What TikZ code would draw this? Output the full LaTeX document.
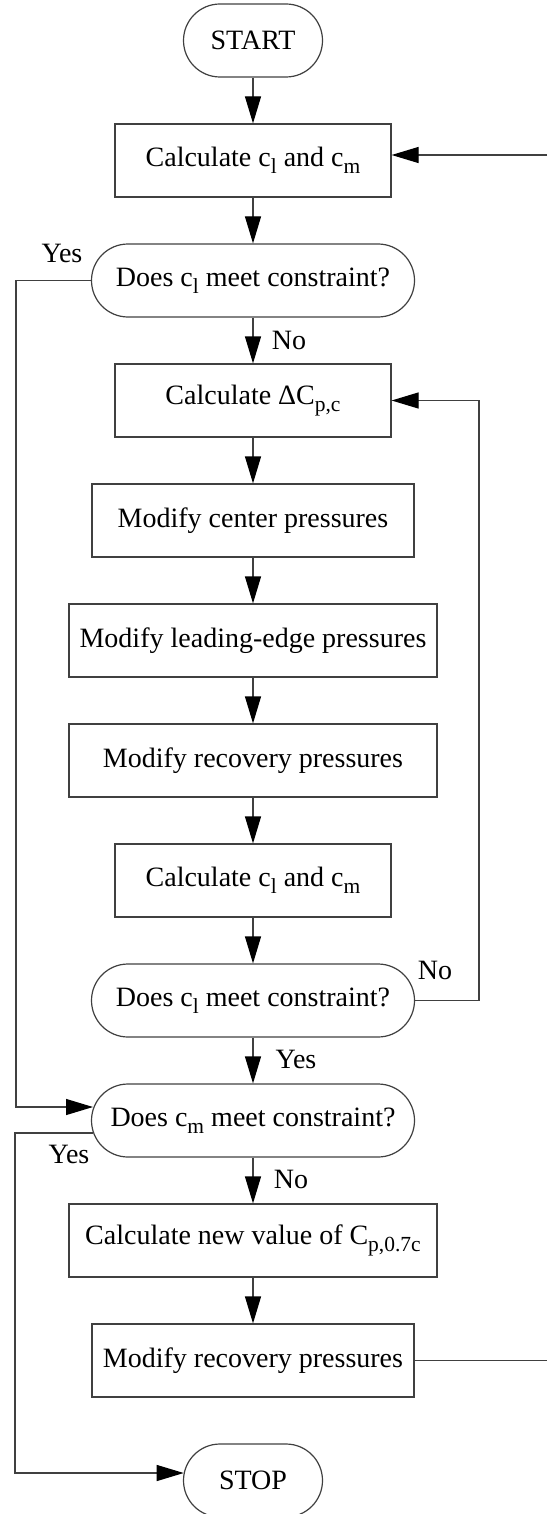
\documentclass[tikz,border=0pt]{standalone}
\usepackage{fontspec}
\setmainfont{Liberation Serif}
\usetikzlibrary{arrows.meta,calc}
\newcommand\sbs[1]{\raisebox{-7pt}{\fontsize{21.5}{21.5}\selectfont #1}}
\definecolor{linecol}{gray}{0.25}
\begin{document}
\begin{tikzpicture}[x=1pt,y=-1pt, font=\fontsize{28}{33}\selectfont,
  box/.style={draw=linecol, line width=1.2pt, minimum height=73pt, inner sep=0pt},
  term/.style={box, rounded corners=36.5pt},
  ln/.style={draw=linecol, line width=1.2pt},
  arr/.style={ln, -{Triangle[length=27pt,width=16pt,color=black]}},
  lbl/.style={inner sep=0pt}]
\useasboundingbox (0,0) rectangle (547,1514);
\node[term, minimum width=139pt] (start) at (253,40.5) {START};
\node[box, minimum width=276pt] (b1) at (253,160.5) {Calculate c\sbs{l} and c\sbs{m}};
\node[term, minimum width=323pt] (d1) at (253,280.5) {Does c\sbs{l} meet constraint?};
\node[box, minimum width=276pt] (b2) at (253,400.5) {Calculate ΔC\sbs{p,c}};
\node[box, minimum width=322pt] (b3) at (253,520.5) {Modify center pressures};
\node[box, minimum width=368pt] (b4) at (253,640.5) {Modify leading-edge pressures};
\node[box, minimum width=368pt] (b5) at (253,760.5) {Modify recovery pressures};
\node[box, minimum width=276pt] (b6) at (253,880.5) {Calculate c\sbs{l} and c\sbs{m}};
\node[term, minimum width=323pt] (d2) at (253,1000.5) {Does c\sbs{l} meet constraint?};
\node[term, minimum width=323pt] (d3) at (253,1120.5) {Does c\sbs{m} meet constraint?};
\node[box, minimum width=368pt] (b7) at (253,1240.5) {Calculate new value of C\sbs{p,0.7c}};
\node[box, minimum width=322pt] (b8) at (253,1360.5) {Modify recovery pressures};
\node[term, minimum width=139pt] (stop) at (253,1480.5) {STOP};

\draw[arr] (start) -- (b1);
\draw[arr] (b1) -- (d1);
\draw[arr] (d1) -- (b2);
\draw[arr] (b2) -- (b3);
\draw[arr] (b3) -- (b4);
\draw[arr] (b4) -- (b5);
\draw[arr] (b5) -- (b6);
\draw[arr] (b6) -- (d2);
\draw[arr] (d2) -- (d3);
\draw[arr] (d3) -- (b7);
\draw[arr] (b7) -- (b8);

\coordinate (rt) at (547,155);
\draw[arr] (rt) -- (rt -| b1.east);
\coordinate (rb) at (547,1360.5);
\draw[ln] (b8.east) -- (rb);

\coordinate (lx) at (479,0);
\draw[arr] (d2.east) -- (d2.east -| lx) -- (b2.east -| lx) -- (b2.east);

\coordinate (yl) at (16,1107);
\draw[arr] (d1.west) -- (d1.west -| yl) -- (yl) -- ($(d3.west)+(2.1,-13.5)$);
\coordinate (y3a) at (15,1133);
\coordinate (y3b) at (15,1473);
\draw[arr] ($(d3.west)+(2.5,12.5)$) -- (y3a) -- (y3b) -- ($(stop.west)+(0.8,-7.5)$);

\node[lbl] (y1) at (62,253) {Yes};
\node[lbl] (n1) at (289,340) {No};
\node[lbl] (n2) at (435,970) {No};
\node[lbl] (y2) at (296,1059) {Yes};
\node[lbl] (y3) at (69,1154) {Yes};
\node[lbl] (n3) at (291,1179) {No};
\end{tikzpicture}
\end{document}
